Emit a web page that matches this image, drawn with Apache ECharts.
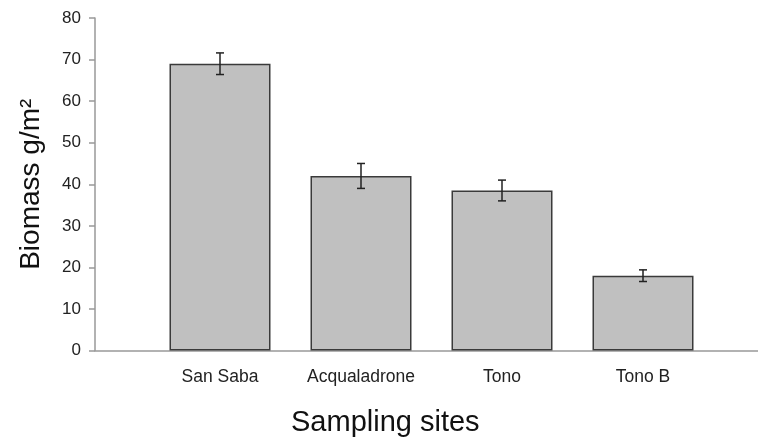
<!DOCTYPE html>
<html>
<head>
<meta charset="utf-8">
<script src="https://cdn.jsdelivr.net/npm/echarts@6/dist/echarts.min.js"></script>
<style>
  html, body { margin: 0; padding: 0; background: #fff; }
  #chart { width: 758px; height: 439px; }
</style>
</head>
<body>
<div id="chart"></div>
<script>
// data
const sites = ['San Saba', 'Acqualadrone', 'Tono', 'Tono B'];
const biomass = [69, 42, 38.5, 18];
const errors = [2.6, 3.0, 2.5, 1.4];

const chart = echarts.init(document.getElementById('chart'));

const font = 'Liberation Sans, Arial, sans-serif';

const option = {
    animation: false,
    textStyle: { fontFamily: font },
    title: {
        text: 'Sampling sites',
        left: 286,
        top: 403,
        textStyle: { fontSize: 29, fontWeight: 'normal', color: '#111', fontFamily: font }
    },
    grid: [
        // frame grid: y axis and long x axis line
        { left: 95, right: 0, top: 18, bottom: 88.5 },
        // bar grid
        { left: 149.5, width: 564, top: 18, bottom: 88.5 }
    ],
    xAxis: [
        {
            gridIndex: 0,
            type: 'value',
            min: 0,
            max: 1,
            axisLine: { show: true, lineStyle: { color: '#999', width: 1.5 } },
            axisTick: { show: false },
            axisLabel: { show: false },
            splitLine: { show: false }
        },
        {
            gridIndex: 1,
            type: 'category',
            data: sites,
            axisLine: { show: false },
            axisTick: { show: false },
            axisLabel: { interval: 0, color: '#222', fontSize: 17.5, margin: 18, fontFamily: font }
        }
    ],
    yAxis: [
        {
            gridIndex: 0,
            type: 'value',
            min: 0,
            max: 80,
            interval: 10,
            name: 'Biomass g/m²',
            nameLocation: 'middle',
            nameGap: 50,
            nameTextStyle: { fontSize: 28, color: '#111', fontFamily: font },
            axisLine: { show: true, lineStyle: { color: '#999', width: 1.5 } },
            axisTick: { show: true, length: 6, lineStyle: { color: '#999', width: 1.5 } },
            axisLabel: { color: '#222', fontSize: 17, margin: 14, fontFamily: font },
            splitLine: { show: false }
        },
        {
            gridIndex: 1,
            type: 'value',
            min: 0,
            max: 80,
            show: false,
            splitLine: { show: false }
        }
    ],
    series: [
        {
            type: 'bar',
            xAxisIndex: 1,
            yAxisIndex: 1,
            data: biomass,
            barWidth: 101,
            itemStyle: { color: '#c0c0c0', borderColor: '#3a3a3a', borderWidth: 1.5 }
        },
        {
            type: 'custom',
            xAxisIndex: 1,
            yAxisIndex: 1,
            data: biomass.map((v, i) => [i, v - errors[i], v + errors[i]]),
            renderItem: function (params, api) {
                const lo = api.coord([api.value(0), api.value(1)]);
                const hi = api.coord([api.value(0), api.value(2)]);
                const cap = 4;
                const style = { stroke: '#222', lineWidth: 1.5 };
                return {
                    type: 'group',
                    children: [
                        { type: 'line', shape: { x1: lo[0], y1: lo[1], x2: hi[0], y2: hi[1] }, style: style },
                        { type: 'line', shape: { x1: hi[0] - cap, y1: hi[1], x2: hi[0] + cap, y2: hi[1] }, style: style },
                        { type: 'line', shape: { x1: lo[0] - cap, y1: lo[1], x2: lo[0] + cap, y2: lo[1] }, style: style }
                    ]
                };
            },
            z: 5
        }
    ]
};

chart.setOption(option);
</script>
</body>
</html>
